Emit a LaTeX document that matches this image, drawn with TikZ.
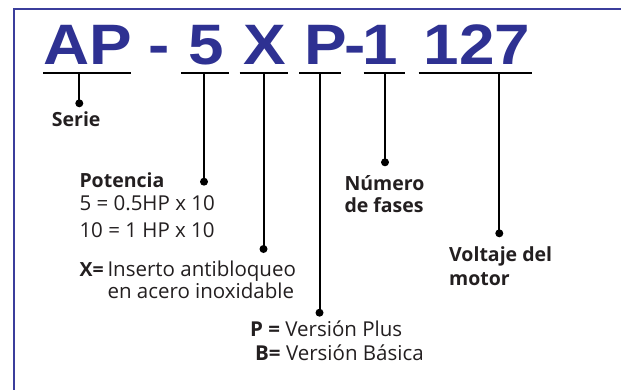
\documentclass[tikz,border=0pt]{standalone}
\usepackage{fontspec}
\setmainfont{Open Sans}
\newfontfamily\titlefont{Liberation Sans}
\usetikzlibrary{positioning}
\definecolor{codeblue}{HTML}{2E3192}
\definecolor{frameblue}{HTML}{3B3E9C}
\definecolor{ink}{HTML}{231F20}
\tikzset{point/.style={fill,circle,inner sep=0pt,minimum size=8pt}}
\tikzset{stem/.style={line width=2pt}}
\tikzset{code/.style={codeblue,inner sep=0pt,anchor=base,font=\titlefont\bfseries\fontsize{57}{57}\selectfont,xscale=1.12,transform shape}}
\tikzset{desc/.style={ink,inner sep=0pt,anchor=base west,font=\fontsize{20.5}{24}\selectfont}}
\tikzset{descb/.style={desc,font=\fontsize{19.5}{24}\selectfont\bfseries}}

\begin{document}
\begin{tikzpicture}[x=1pt,y=-1pt]
    \useasboundingbox [fill=white] (0,0) rectangle (621,389);
    \draw [frameblue, line width=2pt] (14,400) |- (640,9);
    % code letters
    \node [code] (tAP) at (88,64.5) {AP};
    \node [code] (tdash) at (158.7,64.5) {-};
    \node [code] (t5) at (206,64.5) {5};
    \node [code] (tX) at (265,64.5) {X};
    \node [code] (tP) at (325.7,64.5) {P};
    \node [code] (tdashb) at (355,64.5) {-};
    \node [code] (t1) at (380.5,64.5) {1};
    \node [code] (t127) at (477,64.5) {127};
    % bars, stems and dots
    \foreach \n/\x/\a/\b/\y in {AP/79.3/43.3/131/103.3, 5/204/181/228.5/181.7,
        X/263.5/239.6/288/249, P/319.5/299/340.6/312.7,
        1/385/363.6/404.8/162.3, 127/499.3/418.6/531.9/233.3} {
        \draw [stem] (\a,72.7) -- (\b,72.7);
        \coordinate (s\n) at (\x,72.7);
        \node [point] (d\n) at (\x,\y) {};
        \draw [stem] (s\n) -- (d\n.center);
    }
    % descriptions
    \node [descb] (serie) at (51.7,126.7) {Serie};
    \node [descb] (pot) at (79.3,187.3) {Potencia};
    \node [desc] (pot5) at (79.3,210) {5 = 0.5HP x 10};
    \node [desc] (pot10) at (79.3,237.3) {10 = 1 HP x 10};
    \node [descb] (xeq) at (79.3,276) {X=};
    \node [desc] (ins) at (107.3,276) {Inserto antibloqueo};
    \node [desc] (acero) at (107.3,298.3) {en acero inoxidable};
    \node [desc] (plus) at (250,336.7) {\textbf{P =} Versión Plus};
    \node [desc] (basica) at (255,360) {\textbf{B=} Versión Básica};
    \node [descb] (num) at (344.3,190) {Número};
    \node [descb] (fases) at (344.3,212.7) {de fases};
    \node [descb] (volt) at (449,261.7) {Voltaje del};
    \node [descb] (motor) at (449,285) {motor};
\end{tikzpicture}
\end{document}
